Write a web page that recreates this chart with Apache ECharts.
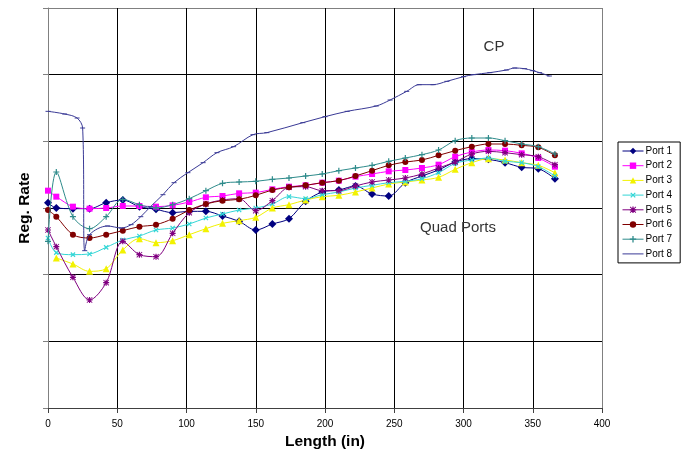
<!DOCTYPE html>
<html>
<head>
<meta charset="utf-8">
<title>Reg. Rate vs Length</title>
<script src="https://cdn.jsdelivr.net/npm/echarts@6/dist/echarts.min.js"></script>
<style>
  html, body { margin: 0; padding: 0; background: #fff; }
  #chart { width: 698px; height: 459px; }
</style>
</head>
<body>
<div id="chart"></div>
<script>
// Measurement stations along the duct (inches) shared by ports 1-7
const lengthIn = [0, 6, 18, 30, 42, 54, 66, 78, 90, 102, 114, 126, 138, 150, 162, 174,
  186, 198, 210, 222, 234, 246, 258, 270, 282, 294, 306, 318, 330, 342, 354, 366];

// Regression rate per quad port
const port1 = [3.08, 3.00, 2.99, 2.99, 3.08, 3.12, 3.02, 2.98, 2.93, 2.95, 2.95, 2.88, 2.80, 2.67, 2.76, 2.84,
  3.10, 3.24, 3.27, 3.33, 3.21, 3.18, 3.38, 3.48, 3.57, 3.69, 3.74, 3.73, 3.68, 3.61, 3.59, 3.44];
const port2 = [3.26, 3.17, 3.02, 2.99, 3.00, 3.03, 3.03, 3.02, 3.04, 3.09, 3.16, 3.18, 3.22, 3.23, 3.28, 3.32,
  3.34, 3.38, 3.41, 3.47, 3.51, 3.55, 3.57, 3.60, 3.65, 3.77, 3.84, 3.87, 3.86, 3.82, 3.75, 3.62];
const port3 = [null, 2.25, 2.16, 2.05, 2.09, 2.37, 2.54, 2.48, 2.51, 2.60, 2.69, 2.77, 2.81, 2.86, 3.00, 3.05,
  3.12, 3.17, 3.19, 3.24, 3.30, 3.36, 3.39, 3.42, 3.46, 3.58, 3.68, 3.74, 3.72, 3.68, 3.64, 3.53];
const port4 = [2.55, 2.33, 2.30, 2.31, 2.41, 2.52, 2.58, 2.67, 2.70, 2.76, 2.85, 2.91, 2.97, 3.00, 3.06, 3.17,
  3.14, 3.20, 3.24, 3.30, 3.34, 3.38, 3.40, 3.44, 3.53, 3.67, 3.72, 3.75, 3.70, 3.68, 3.62, 3.48];
const port5 = [2.67, 2.42, 1.96, 1.62, 1.88, 2.50, 2.30, 2.27, 2.62, 2.93, 3.06, 3.12, 3.14, 2.96, 3.11, 3.31,
  3.32, 3.26, 3.26, 3.33, 3.39, 3.42, 3.45, 3.51, 3.60, 3.69, 3.81, 3.85, 3.83, 3.80, 3.77, 3.65];
const port6 = [2.97, 2.87, 2.60, 2.55, 2.60, 2.66, 2.72, 2.75, 2.84, 2.97, 3.06, 3.11, 3.13, 3.19, 3.27, 3.31,
  3.34, 3.38, 3.41, 3.48, 3.56, 3.64, 3.69, 3.72, 3.79, 3.86, 3.92, 3.96, 3.96, 3.94, 3.91, 3.79];
const port7 = [2.50, 3.54, 2.87, 2.69, 2.87, 3.13, 3.05, 3.00, 3.05, 3.14, 3.26, 3.37, 3.39, 3.40, 3.43, 3.45,
  3.48, 3.51, 3.56, 3.60, 3.64, 3.70, 3.75, 3.80, 3.87, 4.01, 4.05, 4.05, 4.01, 3.96, 3.92, 3.81];

// Centre port (CP) has its own stations
const port8Length = [0, 12, 21, 25, 26.5, 30, 43, 53, 60, 67, 74, 83, 91, 101, 112, 122, 134, 148, 158,
  184, 200, 216, 237, 247, 259, 268, 278, 288, 300, 307, 319, 331, 337, 344, 350, 355, 362];
const port8 = [4.45, 4.41, 4.35, 4.20, 2.36, 2.60, 2.73, 2.70, 2.75, 2.87, 3.02, 3.20, 3.38, 3.53, 3.68, 3.83,
  3.92, 4.10, 4.13, 4.28, 4.37, 4.45, 4.53, 4.62, 4.75, 4.85, 4.85, 4.90, 4.97, 5.00, 5.03, 5.07, 5.10,
  5.09, 5.06, 5.03, 4.98];

const seriesNames = ['Port 1', 'Port 2', 'Port 3', 'Port 4', 'Port 5', 'Port 6', 'Port 7', 'Port 8'];

// Where the two group captions sit, in axis units
const cpCaptionAt = [322, 5.42];
const quadCaptionAt = [296, 2.70];

const FONT = '"Liberation Sans", Arial, Helvetica, sans-serif';

// Stroke-like marker outlines built from thin filled bars
const PLUS = 'path://M0,4L10,4L10,6L0,6Z M4,0L6,0L6,10L4,10Z';
const STAR = 'path://M0,4L10,4L10,6L0,6Z M4,0L6,0L6,10L4,10Z M1,0L10,9L9,10L0,1Z M9,0L10,1L1,10L0,9Z';
const DASH = 'path://M0,0L10,0L10,2L0,2Z';

const pairs = (xs, ys) => xs.map((x, i) => [x, ys[i]]);

const styles = [
  { color: '#000080', symbol: 'diamond', symbolSize: 8 },
  { color: '#ff00ff', symbol: 'rect', symbolSize: 6 },
  { color: '#f2f200', symbol: 'triangle', symbolSize: 7 },
  { color: '#33d6d6', symbol: PLUS, symbolSize: 6, symbolRotate: 45 },
  { color: '#800080', symbol: STAR, symbolSize: 6 },
  { color: '#800000', symbol: 'circle', symbolSize: 6 },
  { color: '#2e8b8b', symbol: PLUS, symbolSize: 6 },
  { color: '#3a3a96', symbol: DASH, symbolSize: [5, 1] }
];

const portData = [port1, port2, port3, port4, port5, port6, port7];

const series = seriesNames.map((name, i) => {
  const st = styles[i];
  const data = i < 7 ? pairs(lengthIn, portData[i]) : pairs(port8Length, port8);
  return {
    name,
    type: 'line',
    data,
    smooth: 0.33,
    showSymbol: true,
    symbol: st.symbol,
    symbolSize: st.symbolSize,
    symbolRotate: st.symbolRotate || 0,
    color: st.color,
    lineStyle: { color: st.color, width: 1 },
    itemStyle: { color: st.color, borderWidth: 0 },
    emphasis: { disabled: true },
    z: 2 + i
  };
});

// Legend entries: the centre-port entry shows only its line
const legendItems = seriesNames.map((name, i) =>
  i === 7 ? { name, itemStyle: { opacity: 0 } } : { name });

const gridBlack = '#000000';
const frameGray = '#808080';

const chart = echarts.init(document.getElementById('chart'), null, { renderer: 'canvas' });

chart.setOption({
  animation: false,
  backgroundColor: '#ffffff',
  textStyle: { fontFamily: FONT },
  grid: { left: 48, right: 96, top: 8, bottom: 51, outerBoundsMode: 'none' },
  xAxis: {
    type: 'value',
    min: 0,
    max: 400,
    interval: 50,
    name: 'Length (in)',
    nameLocation: 'middle',
    nameGap: 26,
    nameTextStyle: { fontSize: 15.5, fontWeight: 'bold', color: '#000', fontFamily: FONT },
    axisLine: { show: true, lineStyle: { color: '#404040', width: 1 } },
    axisTick: { show: true, length: 5, lineStyle: { color: '#404040' } },
    axisLabel: { fontSize: 10, color: '#000', margin: 11, fontFamily: FONT },
    splitLine: {
      show: true,
      lineStyle: {
        width: 1,
        color: [frameGray, gridBlack, gridBlack, gridBlack, gridBlack, gridBlack, gridBlack, gridBlack, frameGray]
      }
    }
  },
  yAxis: {
    type: 'value',
    min: 0,
    max: 6,
    interval: 1,
    name: 'Reg. Rate',
    nameLocation: 'middle',
    nameGap: 15,
    nameRotate: 90,
    nameTextStyle: { fontSize: 15.5, fontWeight: 'bold', color: '#000', fontFamily: FONT },
    axisLine: { show: true, lineStyle: { color: frameGray, width: 1 } },
    axisTick: { show: true, length: 5, lineStyle: { color: frameGray } },
    axisLabel: { show: false },
    splitLine: {
      show: true,
      lineStyle: {
        width: 1,
        color: [gridBlack, gridBlack, gridBlack, gridBlack, gridBlack, gridBlack, frameGray]
      }
    }
  },
  legend: {
    data: legendItems,
    orient: 'vertical',
    left: 618,
    top: 142,
    padding: [3, 8, 3, 4],
    itemGap: 2.7,
    itemWidth: 21,
    itemHeight: 8,
    selectedMode: false,
    backgroundColor: '#fff',
    borderColor: '#000',
    borderWidth: 1,
    borderRadius: 0,
    lineStyle: { width: 1 },
    textStyle: { fontSize: 10, color: '#000', fontFamily: FONT, lineHeight: 12, padding: [0, 0, 0, -3] }
  },
  series
});

// Group captions placed in data space
const cpPx = chart.convertToPixel({ gridIndex: 0 }, cpCaptionAt);
const quadPx = chart.convertToPixel({ gridIndex: 0 }, quadCaptionAt);
chart.setOption({
  graphic: [
    {
      type: 'text', z: 20, silent: true,
      style: { text: 'CP', x: cpPx[0], y: cpPx[1], align: 'center', verticalAlign: 'middle',
        font: '15px ' + FONT, fill: '#333' }
    },
    {
      type: 'text', z: 20, silent: true,
      style: { text: 'Quad Ports', x: quadPx[0], y: quadPx[1], align: 'center', verticalAlign: 'middle',
        font: '15px ' + FONT, fill: '#333' }
    }
  ]
});
</script>
</body>
</html>
